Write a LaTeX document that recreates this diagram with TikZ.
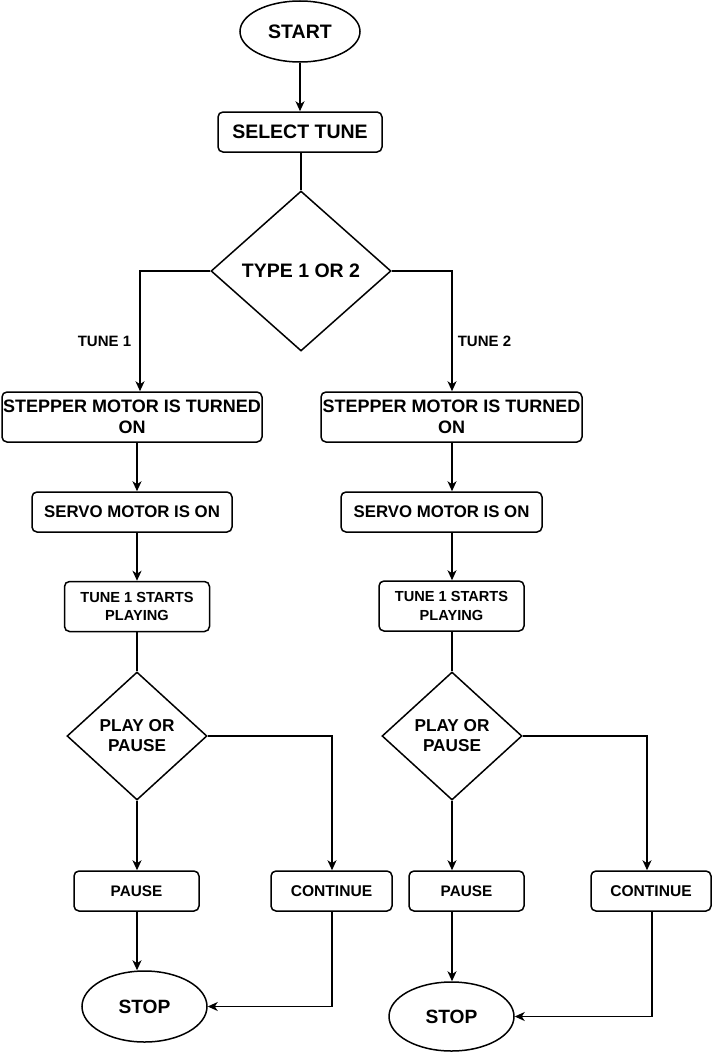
\documentclass[tikz,border=0pt]{standalone}
\usepackage{fontspec}
\setmainfont{Liberation Sans}
\usetikzlibrary{shapes.geometric,arrows.meta}
\tikzset{
  base/.style={draw=black, line width=1.5pt, inner sep=0pt, align=center, font=\bfseries},
  procbox/.style={base, rectangle, rounded corners=5pt},
  termnode/.style={base, ellipse},
  decnode/.style={base, diamond},
  conn/.style={line width=1.6pt, draw=black},
  arr/.style={conn, -{Stealth[length=10pt,width=9pt,inset=3pt]}},
  lbl/.style={inner sep=0pt, font=\fontsize{15}{18}\selectfont\bfseries}
}
\begin{document}
\begin{tikzpicture}[x=1pt,y=-1pt]
\useasboundingbox[fill=white] (0,0) rectangle (712,1052);

% top
\node[termnode, minimum width=120pt, minimum height=61pt, font=\fontsize{19.5}{22}\selectfont\bfseries] (start) at (300,31.5) {START};
\node[procbox, minimum width=164pt, minimum height=40pt, font=\fontsize{19.5}{22}\selectfont\bfseries] (sel) at (300,132) {SELECT TUNE};
\node[decnode, minimum width=180pt, minimum height=160pt, font=\fontsize{19.5}{22}\selectfont\bfseries] (type) at (301,271) {TYPE 1 OR 2};

% left column
\node[procbox, minimum width=260pt, minimum height=50pt, font=\fontsize{18}{21}\selectfont\bfseries] (st1) at (132,417) {STEPPER MOTOR IS TURNED\\ON};
\node[procbox, minimum width=200pt, minimum height=40pt, font=\fontsize{16.8}{20}\selectfont\bfseries] (sv1) at (132,512) {SERVO MOTOR IS ON};
\node[procbox, minimum width=145pt, minimum height=50pt, font=\fontsize{14.6}{18.5}\selectfont\bfseries] (tu1) at (137,606.5) {TUNE 1 STARTS\\PLAYING};
\node[decnode, minimum width=140pt, minimum height=128pt, font=\fontsize{17.2}{20}\selectfont\bfseries] (d1) at (137,736) {PLAY OR\\PAUSE};
\node[procbox, minimum width=125pt, minimum height=40pt, font=\fontsize{15.3}{18}\selectfont\bfseries] (p1) at (136.5,891) {PAUSE};
\node[procbox, minimum width=121pt, minimum height=40pt, font=\fontsize{15.6}{18}\selectfont\bfseries] (c1) at (331.5,891) {CONTINUE};
\node[termnode, minimum width=125pt, minimum height=71pt, font=\fontsize{19.2}{22}\selectfont\bfseries] (s1) at (144.5,1006.5) {STOP};

% right column
\node[procbox, minimum width=261pt, minimum height=50pt, font=\fontsize{18}{21}\selectfont\bfseries] (st2) at (451.5,417) {STEPPER MOTOR IS TURNED\\ON};
\node[procbox, minimum width=201pt, minimum height=40pt, font=\fontsize{16.8}{20}\selectfont\bfseries] (sv2) at (441.5,512) {SERVO MOTOR IS ON};
\node[procbox, minimum width=145pt, minimum height=50pt, font=\fontsize{14.6}{18.5}\selectfont\bfseries] (tu2) at (451.5,606) {TUNE 1 STARTS\\PLAYING};
\node[decnode, minimum width=140pt, minimum height=128pt, font=\fontsize{17.2}{20}\selectfont\bfseries] (d2) at (452,736) {PLAY OR\\PAUSE};
\node[procbox, minimum width=115pt, minimum height=40pt, font=\fontsize{15.3}{18}\selectfont\bfseries] (p2) at (466.5,891) {PAUSE};
\node[procbox, minimum width=120pt, minimum height=40pt, font=\fontsize{15.6}{18}\selectfont\bfseries] (c2) at (651,891) {CONTINUE};
\node[termnode, minimum width=125pt, minimum height=69pt, font=\fontsize{19.2}{22}\selectfont\bfseries] (s2) at (451.5,1016.5) {STOP};

% labels
\node[lbl] (l1) at (104.5,341) {TUNE 1};
\node[lbl] (l2) at (484.5,341) {TUNE 2};

% connectors top
\draw[arr] (start) -- (sel);
\draw[conn] (sel.south -| type.north) -- (type.north);
\draw[arr] (type.west) -| ([xshift=8pt]st1.north);
\draw[arr] (type.east) -| ([xshift=0.5pt]st2.north);

% left column connectors
\draw[arr] ([xshift=5pt]st1.south) -- ([xshift=5pt]sv1.north);
\draw[arr] ([xshift=5pt]sv1.south) -- (tu1.north);
\draw[conn] (tu1.south) -- (d1.north);
\draw[arr] (d1.south) -- (d1.south |- p1.north);
\draw[arr] (d1.east) -| ([xshift=0.5pt]c1.north);
\draw[arr] (p1.south -| d1.south) -- (d1.south |- s1.north);
\draw[arr] ([xshift=0.5pt]c1.south) |- (s1.east);

% right column connectors
\draw[arr] ([xshift=0.5pt]st2.south) -- ([xshift=10.5pt]sv2.north);
\draw[arr] ([xshift=10.5pt]sv2.south) -- ([xshift=0.5pt]tu2.north);
\draw[conn] ([xshift=0.5pt]tu2.south) -- (d2.north);
\draw[arr] (d2.south) -- (d2.south |- p2.north);
\draw[arr] (d2.east) -| ([xshift=-4pt]c2.north);
\draw[arr] (p2.south -| d2.south) -- (d2.south |- s2.north);
\draw[arr] ([xshift=1pt]c2.south) |- (s2.east);
\end{tikzpicture}
\end{document}
